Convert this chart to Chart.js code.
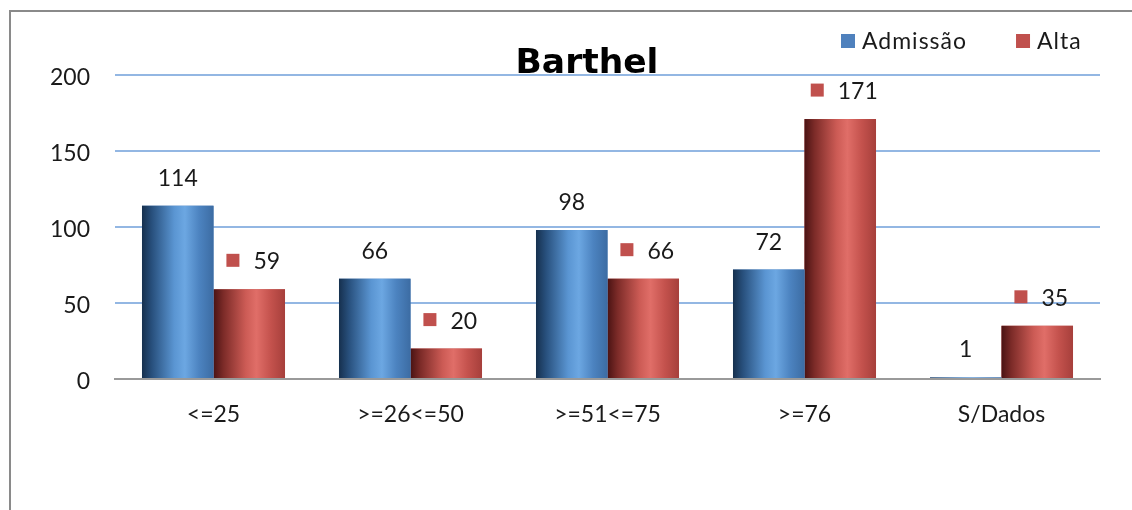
<!DOCTYPE html>
<html>
<head>
<meta charset="utf-8">
<title>Barthel</title>
<script src="https://cdn.jsdelivr.net/npm/chart.js@4/dist/chart.umd.min.js"></script>
<style>
  html, body { margin: 0; padding: 0; background: #ffffff; }
  canvas { display: block; }
</style>
</head>
<body>
<canvas id="chart" width="1132" height="510"></canvas>
<script>
// Barthel index groups, on admission and at discharge
const categories = ['<=25', '>=26<=50', '>=51<=75', '>=76', 'S/Dados'];
const admissao = [114, 66, 98, 72, 1];
const alta = [59, 20, 66, 171, 35];
const seriesNames = ['Admissão', 'Alta'];
const yTicks = [0, 50, 100, 150, 200];
const chartTitle = 'Barthel';

const FONT = 'Lato, "Open Sans", "DejaVu Sans", sans-serif';
const TITLE_FONT = '"DejaVu Sans", Lato, sans-serif';
const TEXT_COLOR = '#1a1a1a';
const SERIES_COLORS = ['#4f81bd', '#c0504d'];

// horizontal shading that gives the bars a rounded, tube-like look
const SHADES = [
  [[0, '#16304e'], [0.14, '#28507d'], [0.45, '#5a95d2'], [0.6, '#6ca7e2'], [0.8, '#4c83c0'], [1, '#3c6ca3']],
  [[0, '#4a1313'], [0.14, '#7c2b28'], [0.45, '#cc5b55'], [0.6, '#e06e68'], [0.8, '#c4524d'], [1, '#a63f3b']]
];

// frame line on the left and top edges
const framePlugin = {
  id: 'frame',
  beforeDraw(chart) {
    const ctx = chart.ctx;
    ctx.save();
    ctx.strokeStyle = '#8a8a8a';
    ctx.lineWidth = 2;
    ctx.beginPath();
    ctx.moveTo(10, chart.height);
    ctx.lineTo(10, 11);
    ctx.lineTo(chart.width, 11);
    ctx.stroke();
    ctx.restore();
  }
};

// repaint every bar with its shaded fill
const shadePlugin = {
  id: 'shade',
  afterDatasetDraw(chart, args) {
    const ctx = chart.ctx;
    const stops = SHADES[args.index];
    args.meta.data.forEach(bar => {
      const { x, y, base, width } = bar.getProps(['x', 'y', 'base', 'width'], true);
      const left = x - width / 2;
      const g = ctx.createLinearGradient(left, 0, left + width, 0);
      stops.forEach(s => g.addColorStop(s[0], s[1]));
      ctx.save();
      ctx.fillStyle = g;
      ctx.fillRect(left, Math.min(y, base), width, Math.abs(base - y));
      ctx.restore();
    });
  }
};

// value labels above the bars; the second series carries its legend key
const valueLabelPlugin = {
  id: 'valueLabels',
  afterDatasetsDraw(chart) {
    const ctx = chart.ctx;
    ctx.save();
    ctx.font = '23px ' + FONT;
    ctx.fillStyle = TEXT_COLOR;
    ctx.textBaseline = 'alphabetic';
    chart.getSortedVisibleDatasetMetas().forEach(meta => {
      const values = chart.data.datasets[meta.index].data;
      meta.data.forEach((bar, i) => {
        const { x, y } = bar.getProps(['x', 'y'], true);
        const txt = String(values[i]);
        const baseline = y - 20;
        if (meta.index === 0) {
          ctx.textAlign = 'center';
          ctx.fillStyle = TEXT_COLOR;
          ctx.fillText(txt, x, baseline);
        } else {
          const key = 13, gap = 14;
          const tw = ctx.measureText(txt).width;
          const left = x - (key + gap + tw) / 2 + 4;
          ctx.fillStyle = SERIES_COLORS[1];
          ctx.fillRect(left, baseline - 15.5, key, key);
          ctx.fillStyle = TEXT_COLOR;
          ctx.textAlign = 'left';
          ctx.fillText(txt, left + key + gap, baseline);
        }
      });
    });
    ctx.restore();
  }
};

// title and legend
const headerPlugin = {
  id: 'header',
  afterDraw(chart) {
    const ctx = chart.ctx;
    ctx.save();
    ctx.fillStyle = '#000000';
    ctx.font = 'bold 34.5px ' + TITLE_FONT;
    ctx.textAlign = 'center';
    ctx.textBaseline = 'alphabetic';
    ctx.fillText(chartTitle, 587, 73);

    ctx.font = '23px ' + FONT;
    ctx.letterSpacing = '1px';
    ctx.textAlign = 'left';
    let lx = 841;
    seriesNames.forEach((name, i) => {
      ctx.fillStyle = SERIES_COLORS[i];
      ctx.fillRect(lx, 34, 14, 14);
      ctx.fillStyle = TEXT_COLOR;
      ctx.fillText(name, lx + 21, 49);
      lx += 21 + ctx.measureText(name).width + 49;
    });
    ctx.restore();
  }
};

new Chart(document.getElementById('chart'), {
  type: 'bar',
  data: {
    labels: categories,
    datasets: [
      { label: seriesNames[0], data: admissao, backgroundColor: SERIES_COLORS[0], borderWidth: 0 },
      { label: seriesNames[1], data: alta, backgroundColor: SERIES_COLORS[1], borderWidth: 0 }
    ]
  },
  options: {
    responsive: false,
    animation: false,
    events: [],
    layout: { padding: { top: 75, right: 32, bottom: 0, left: 0 } },
    datasets: { bar: { categoryPercentage: 0.726, barPercentage: 1.0 } },
    plugins: {
      legend: { display: false },
      title: { display: false },
      tooltip: { enabled: false }
    },
    scales: {
      x: {
        grid: { display: false },
        border: { display: true, color: '#9a9a9a', width: 2 },
        ticks: { color: TEXT_COLOR, font: { family: FONT, size: 23 }, padding: 14, maxRotation: 0 },
        afterFit(scale) { scale.height = 131; }
      },
      y: {
        min: 0,
        max: 200,
        afterBuildTicks(scale) { scale.ticks = yTicks.map(v => ({ value: v })); },
        grid: {
          drawTicks: false,
          lineWidth: 2,
          color: ctx => (ctx.tick && ctx.tick.value === 0) ? '#9a9a9a' : '#93b7e3'
        },
        border: { display: false },
        ticks: { color: TEXT_COLOR, font: { family: FONT, size: 23 }, padding: 25, labelOffset: 3 },
        afterFit(scale) { scale.width = 115; }
      }
    }
  },
  plugins: [framePlugin, shadePlugin, valueLabelPlugin, headerPlugin]
});
</script>
</body>
</html>
